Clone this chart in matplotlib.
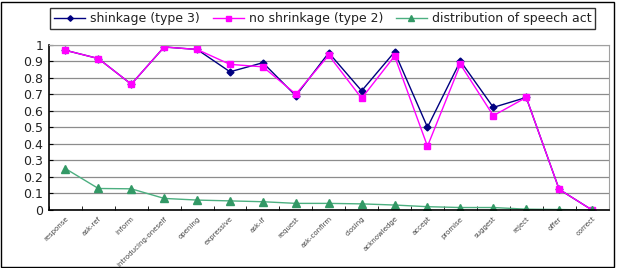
import matplotlib.pyplot as plt
import matplotlib.patches as patches
import numpy as np

categories = ["response", "ask-ref", "inform", "introducing-oneself", "opening",
              "expressive", "ask-if", "request", "ask-confirm", "closing",
              "acknowledge", "accept", "promise", "suggest", "reject", "offer", "correct"]
shrinkage = [0.965, 0.915, 0.76, 0.985, 0.97, 0.835, 0.89, 0.69, 0.95, 0.72,
             0.955, 0.50, 0.90, 0.62, 0.68, 0.125, 0.0]
no_shrinkage = [0.965, 0.915, 0.76, 0.985, 0.97, 0.88, 0.865, 0.70, 0.935, 0.675,
                0.93, 0.385, 0.88, 0.57, 0.68, 0.125, 0.0]
distribution = [0.25, 0.13, 0.128, 0.07, 0.06, 0.055, 0.05, 0.04, 0.04, 0.037,
                0.03, 0.02, 0.015, 0.015, 0.005, 0.003, 0.0]
yticks = [0, 0.1, 0.2, 0.3, 0.4, 0.5, 0.6, 0.7, 0.8, 0.9, 1]
ytick_labels = ["0", "0.1", "0.2", "0.3", "0.4", "0.5", "0.6", "0.7", "0.8", "0.9", "1"]

W, H = 618, 268
fig = plt.figure(figsize=(W / 100, H / 100), dpi=100)
fig.patch.set_facecolor("white")

# outer frame
fig.add_artist(patches.Rectangle((1.5 / W, 1.5 / H), (613.5 - 1.5) / W, (266 - 1.5) / H,
                                 transform=fig.transFigure, fill=False,
                                 edgecolor="black", linewidth=1))

ax = fig.add_axes([49 / W, (H - 210) / H, (608.5 - 49) / W, (210 - 44.5) / H])
x = np.arange(len(categories))

l1, = ax.plot(x, shrinkage, color="#000080", marker="D", markersize=3.5, linewidth=1,
              label="shinkage (type 3)")
l2, = ax.plot(x, no_shrinkage, color="#FF00FF", marker="s", markersize=4.5, linewidth=1,
              label="no shrinkage (type 2)")
l3, = ax.plot(x, distribution, color="#4CAF80", marker="^", markersize=5.5, linewidth=1,
              markerfacecolor="#339966", markeredgecolor="#339966",
              label="distribution of speech act")

ax.set_xlim(-0.5, len(categories) - 0.5)
ax.set_ylim(0, 1)
ax.set_yticks(yticks)
ax.set_yticklabels(ytick_labels, fontsize=9, color="#222222")
ax.set_xticks(x)
ax.set_xticklabels(categories, rotation=45, ha="right", rotation_mode="anchor",
                   fontsize=5, color="#444444")
ax.set_xticks(np.arange(-0.5, len(categories), 1), minor=True)
ax.tick_params(axis="x", which="major", length=0, pad=4)
ax.tick_params(axis="x", which="minor", length=3, direction="in", color="black")
ax.tick_params(axis="y", length=3, direction="in", pad=4)
ax.yaxis.grid(True, color="#8c8c8c", linewidth=0.9)
ax.set_axisbelow(True)
for side in ["top", "right"]:
    ax.spines[side].set_color("#a0a0a0")
for side in ["left", "bottom"]:
    ax.spines[side].set_color("black")
    ax.spines[side].set_linewidth(1.2)

leg = fig.legend(handles=[l1, l2, l3], loc="upper left",
                 bbox_to_anchor=(44 / W, 1 - 2 / H), ncol=3, fontsize=9,
                 frameon=True, fancybox=False, edgecolor="black",
                 handlelength=2.5, handletextpad=0.4, columnspacing=1.0,
                 borderpad=0.3, markerscale=0.8)
leg.get_frame().set_linewidth(1)
for t in leg.get_texts():
    t.set_color("#222222")

fig.savefig("out.png", dpi=100)
